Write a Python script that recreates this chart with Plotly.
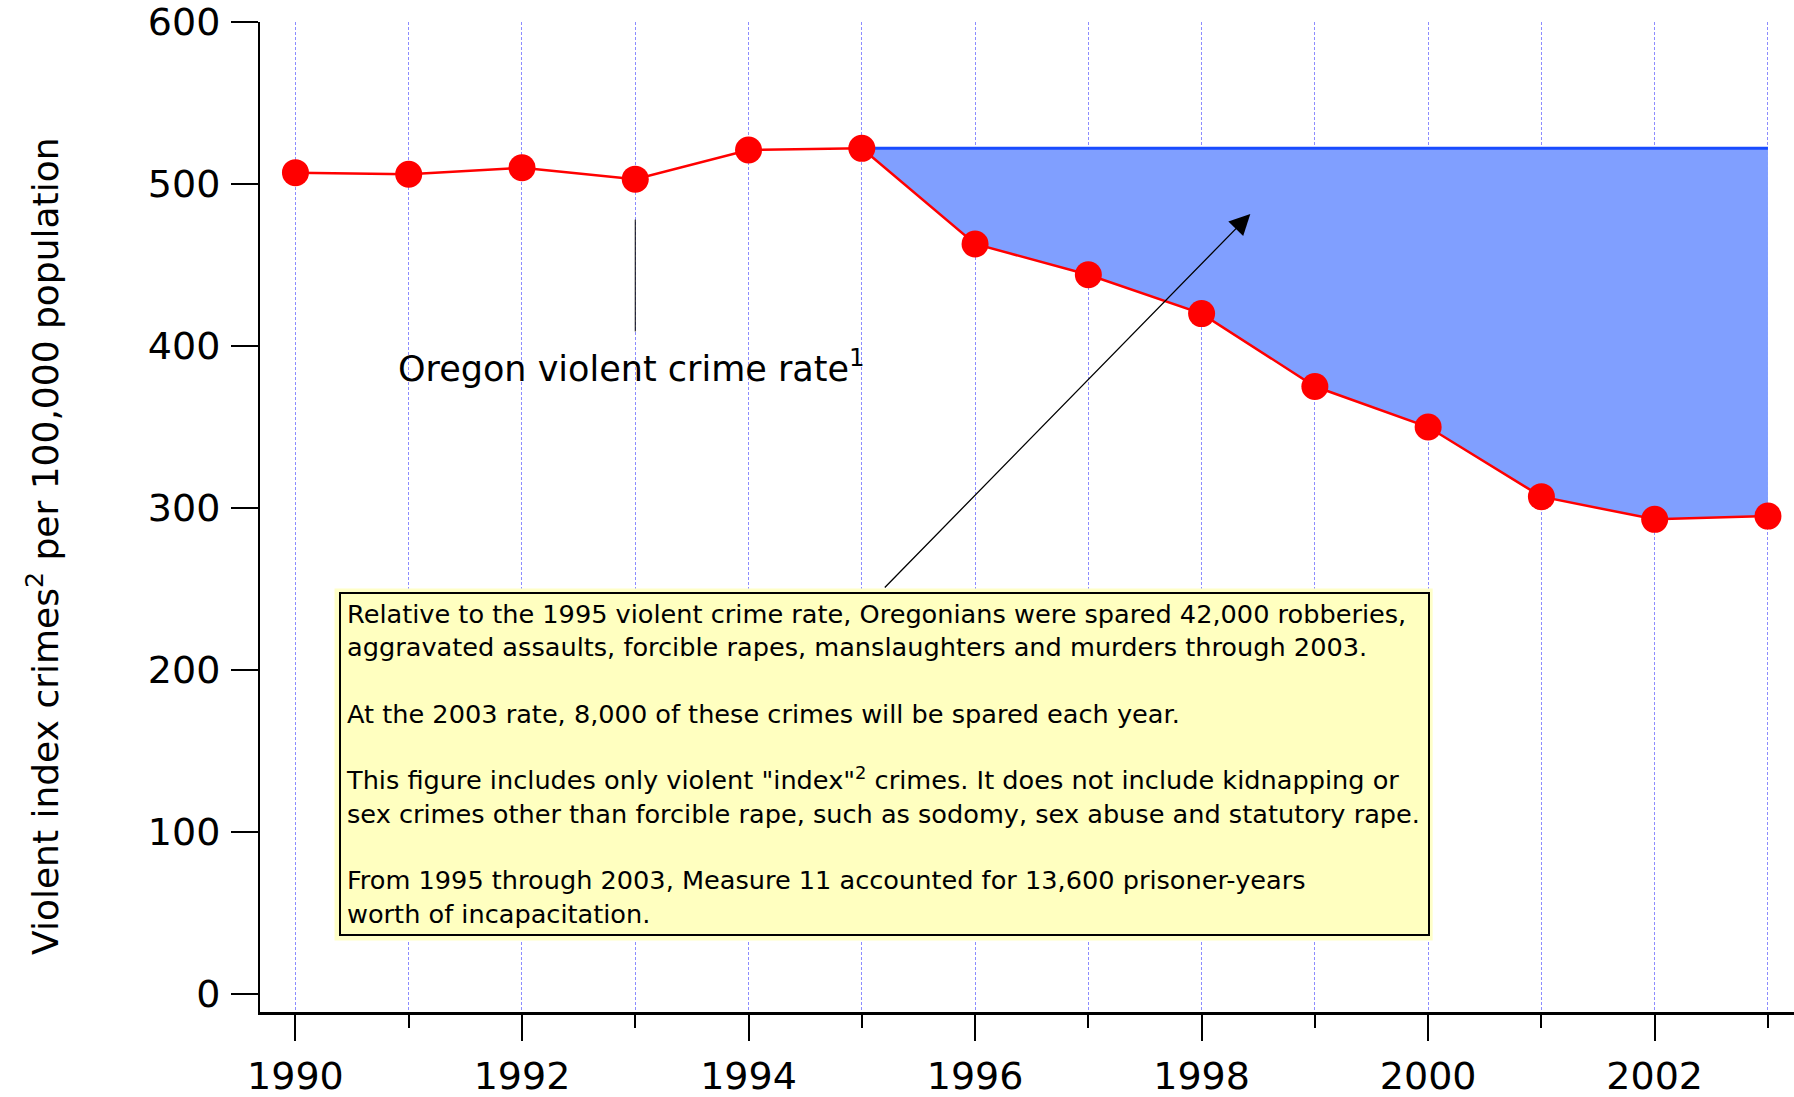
import plotly.graph_objects as go

years = list(range(1990, 2004))
crime_rate = [507, 506, 510, 503, 521, 522, 463, 444, 420, 375, 350, 307, 293, 295]
base_year = 1995

box_text = (
    "Relative to the 1995 violent crime rate, Oregonians were spared 42,000 robberies,<br>"
    "aggravated assaults, forcible rapes, manslaughters and murders through 2003.<br><br>"
    "At the 2003 rate, 8,000 of these crimes will be spared each year.<br><br>"
    "This figure includes only violent \"index\"<sup>2</sup> crimes. It does not include kidnapping or<br>"
    "sex crimes other than forcible rape, such as sodomy, sex abuse and statutory rape.<br><br>"
    "From 1995 through 2003, Measure 11 accounted for 13,600 prisoner-years<br>"
    "worth of incapacitation."
)

i0 = years.index(base_year)
fill_x = years[i0:]
fill_y = crime_rate[i0:]
base_y = [crime_rate[i0]] * len(fill_x)

AXIS_FONT = "DejaVu Sans"

fig = go.Figure()

# 1995 level line
fig.add_trace(go.Scatter(
    x=fill_x, y=base_y, mode="lines",
    line=dict(color="#1a4cff", width=3),
    hoverinfo="skip",
))
# area spared relative to 1995
fig.add_trace(go.Scatter(
    x=fill_x, y=fill_y, mode="lines",
    line=dict(width=0),
    fill="tonexty", fillcolor="#809fff",
    hoverinfo="skip",
))
fig.add_trace(go.Scatter(
    x=years, y=crime_rate, mode="lines+markers",
    line=dict(color="#ff0000", width=2.5),
    marker=dict(color="#ff0000", size=27),
    cliponaxis=False,
))

fig.update_layout(
    width=1794, height=1097,
    margin=dict(l=260, r=0, t=22, b=85),
    plot_bgcolor="white", paper_bgcolor="white",
    showlegend=False,
    font=dict(family=AXIS_FONT, color="black"),
    xaxis=dict(
        range=[1989.687, 2003.23],
        tick0=1990, dtick=2,
        ticks="outside", ticklen=26, tickwidth=2, tickcolor="black",
        ticklabelstandoff=2,
        tickfont=dict(size=38, family=AXIS_FONT),
        showline=True, linecolor="black", linewidth=3,
        showgrid=True, gridcolor="#8c8cff", gridwidth=1, griddash="3px,2px",
        zeroline=False, automargin=False,
        minor=dict(dtick=1, ticks="outside", ticklen=13, tickwidth=2,
                   tickcolor="black", showgrid=True, gridcolor="#8c8cff",
                   gridwidth=1, griddash="3px,2px"),
    ),
    yaxis=dict(
        range=[-11.1, 600],
        tick0=0, dtick=100,
        ticks="outside", ticklen=27, tickwidth=2, tickcolor="black",
        ticklabelstandoff=3,
        tickfont=dict(size=38, family=AXIS_FONT),
        showline=True, linecolor="black", linewidth=2,
        showgrid=False, zeroline=False, automargin=False,
    ),
    shapes=[
        dict(type="line", xref="x", yref="y", x0=1993, x1=1993, y0=478, y1=409,
             line=dict(color="black", width=1)),
        # pale glow around the note box
        dict(type="rect", xref="x", yref="y", x0=1990.345, x1=2000.04,
             y0=250.3, y1=33, fillcolor="#ffffc8", line=dict(width=0),
             layer="above"),
    ],
    annotations=[
        dict(
            text="Violent index crimes<sup>2</sup> per 100,000 population",
            xref="paper", yref="paper", x=-0.1415, y=0.4707,
            xanchor="center", yanchor="middle",
            textangle=-90, showarrow=False,
            font=dict(size=36, family=AXIS_FONT),
        ),
        dict(
            text="Oregon violent crime rate<sup>1</sup>",
            xref="x", yref="y", x=1990.89, y=387.5,
            xanchor="left", yanchor="middle", showarrow=False,
            font=dict(size=35, family=AXIS_FONT),
        ),
        dict(
            text="", xref="x", yref="y", x=1998.43, y=481.5,
            axref="x", ayref="y", ax=1995.19, ay=250,
            showarrow=True, arrowhead=2, arrowsize=3.2, arrowwidth=1.3,
            arrowcolor="black",
        ),
        dict(
            text=box_text,
            xref="x", yref="y", x=1990.38, y=248.4,
            xanchor="left", yanchor="top", align="left", valign="top",
            showarrow=False,
            bgcolor="#ffffc0", bordercolor="black", borderwidth=2, borderpad=5,
            width=1077,
            font=dict(size=25.6, family=AXIS_FONT),
        ),
    ],
)

fig.write_html("out.html", config={"displayModeBar": False},
               post_script="document.body.style.margin = '0';")
